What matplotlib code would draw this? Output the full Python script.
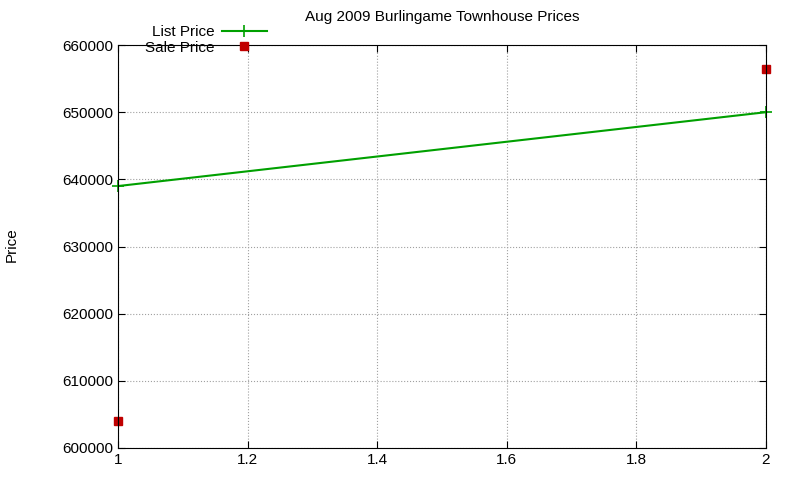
import matplotlib
matplotlib.use("Agg")
import matplotlib.pyplot as plt

plt.rcParams['font.family'] = ['Liberation Sans', 'DejaVu Sans']

# data
list_x = [1, 2]
list_price = [639000, 650000]
sale_x = [1, 2]
sale_price = [604000, 656500]

fig = plt.figure(figsize=(8, 4.8), dpi=100)
ax = fig.add_axes([0.1475, 0.0667, 0.81, 0.8395])

ax.plot(list_x, list_price, color='#00a000', lw=1.5, marker='+', ms=8, mew=1.2,
        label='List Price', clip_on=False)
ax.plot(sale_x, sale_price, ls='none', color='#c00000', marker='s', ms=6,
        label='Sale Price', clip_on=False)

ax.set_xlim(1, 2)
ax.set_ylim(600000, 660000)
ax.set_xticks([1, 1.2, 1.4, 1.6, 1.8, 2])
ax.set_xticklabels(['1', '1.2', '1.4', '1.6', '1.8', '2'])
ax.set_yticks(range(600000, 660001, 10000))
ax.grid(True, color='#a0a0a0', ls=':', lw=0.8)
ax.tick_params(direction='in', top=True, right=True, labelsize=11, length=5)
for s in ax.spines.values():
    s.set_linewidth(0.8)

ax.set_title('Aug 2009 Burlingame Townhouse Prices', fontsize=11, pad=17)
fig.text(0.015, 0.49, 'Price', rotation=90, fontsize=11, ha='center', va='center')

ax.legend(loc='upper left', bbox_to_anchor=(0.168, 0.97), bbox_transform=fig.transFigure,
          frameon=False, markerfirst=False, numpoints=1,
          fontsize=11, handlelength=2.9, borderaxespad=0.3, labelspacing=0.1, handletextpad=0.5)

fig.savefig('out.png', dpi=100)
